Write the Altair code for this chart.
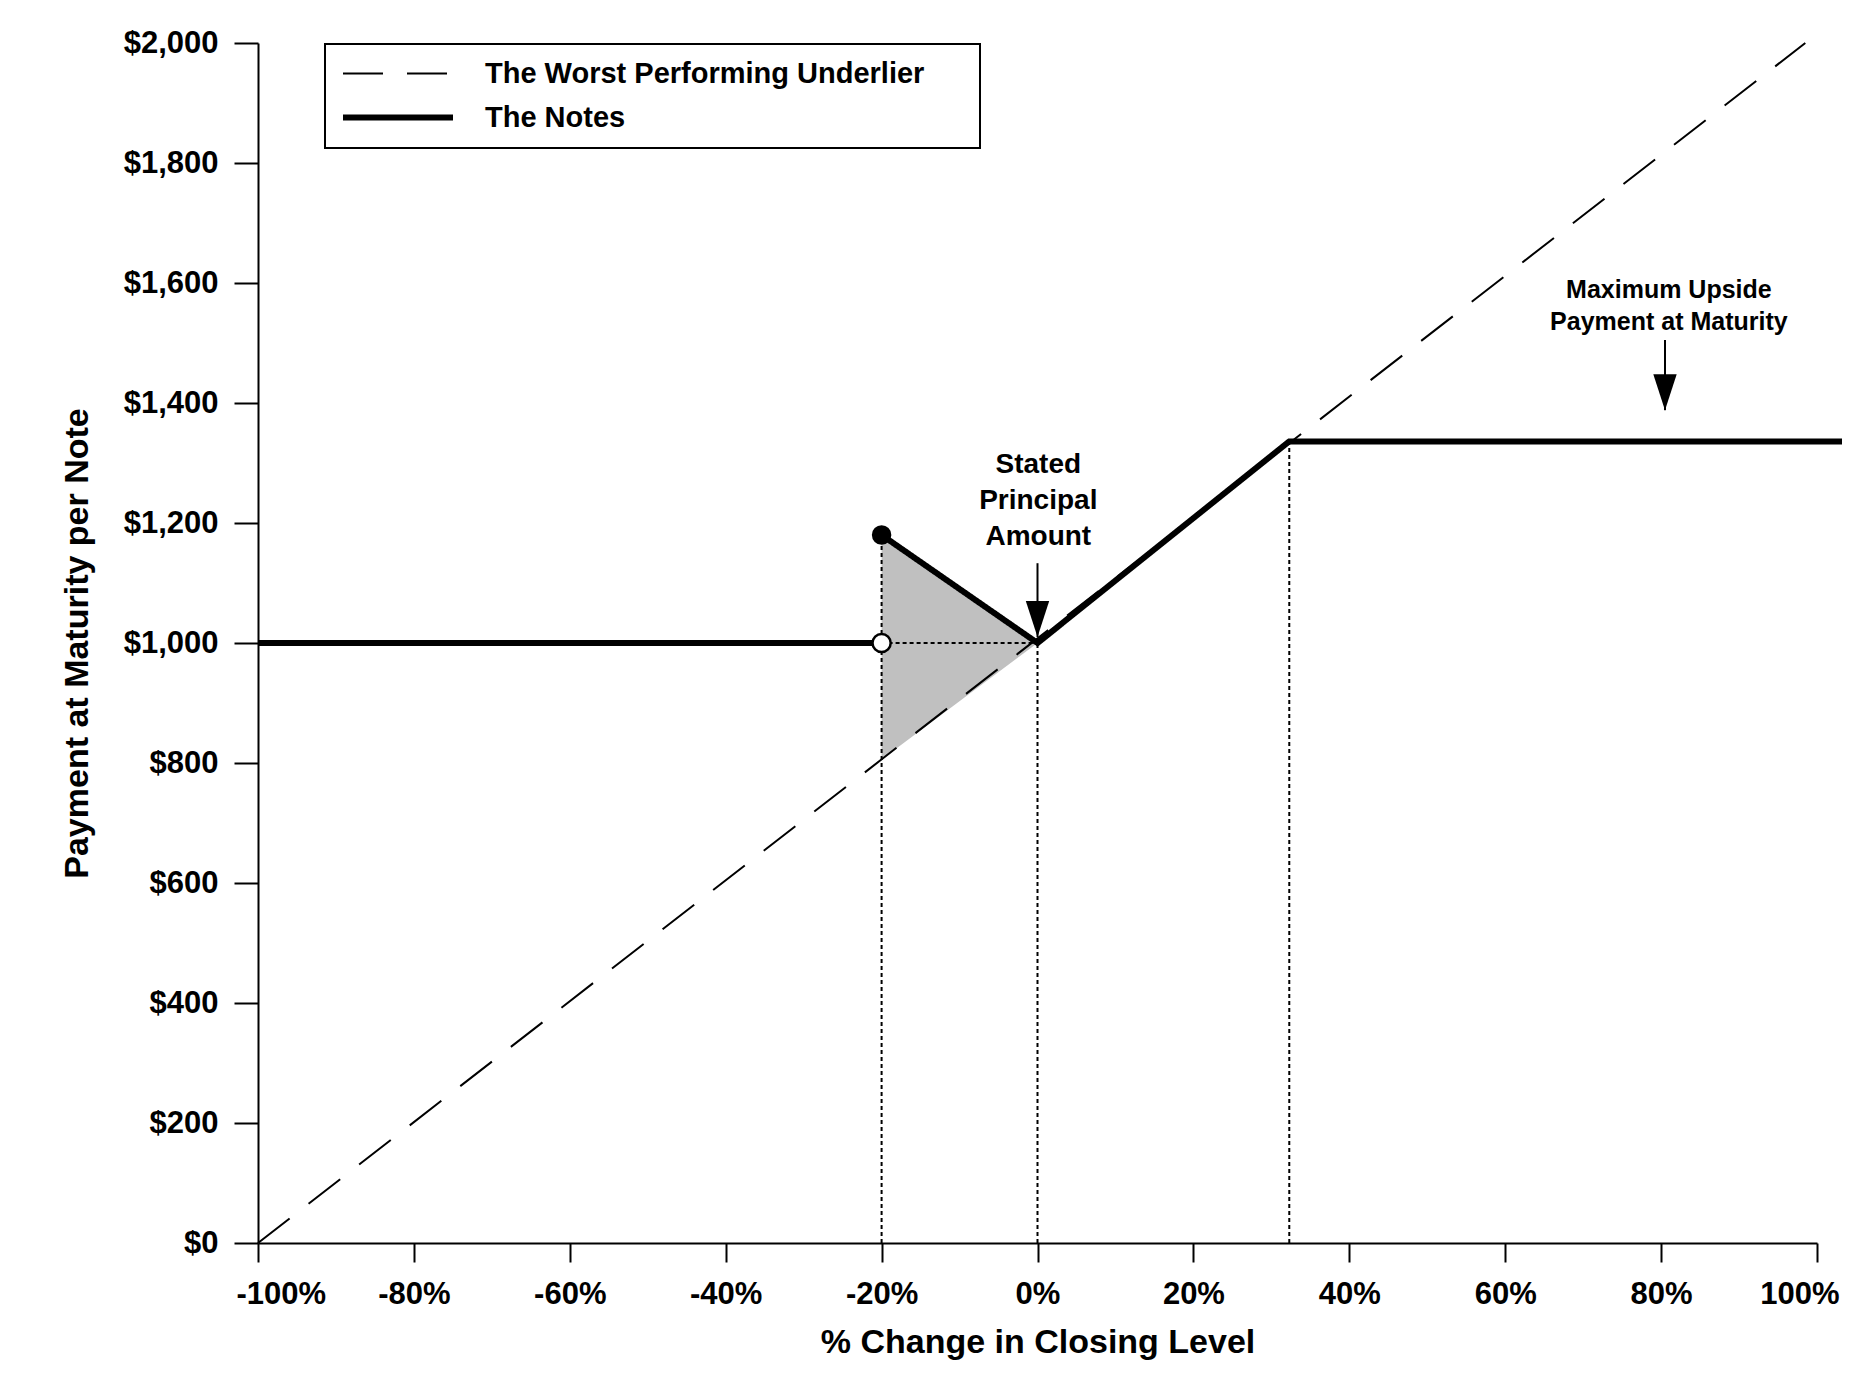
import altair as alt
import pandas as pd

# ---- data ----
series_names = ["The Worst Performing Underlier", "The Notes"]

underlier_x = [-100, 98.5]
underlier_y = [0, 2000]

notes_seg = [1, 1, 2, 2, 2, 2]
notes_x = [-100, -20, -20, 0, 32.3, 105]
notes_y = [1000, 1000, 1180, 1000, 1336, 1336]

shade_x = [-20, 0]
shade_lo = [806, 1000]
shade_hi = [1180, 1000]

vline_x = [-20, 0, 32.3]
vline_top = [1180, 1000, 1336]
hline_y = [1000]
hline_x1 = [-20]
hline_x2 = [0]

dot_filled_x = [-20]
dot_filled_y = [1180]
dot_open_x = [-20]
dot_open_y = [1000]

ann_text = [["Stated", "Principal", "Amount"], ["Maximum Upside", "Payment at Maturity"]]
ann_x = [0.1, 81]
ann_y = [1297, 1588]
arrow_x = [0, 80.5]
arrow_top = [1133, 1505]
arrow_tip = [1010, 1388]

x_ticks = [-100, -80, -60, -40, -20, 0, 20, 40, 60, 80, 100]
y_ticks = [0, 200, 400, 600, 800, 1000, 1200, 1400, 1600, 1800, 2000]

FONT = "Liberation Sans"
# trailing non-breaking spaces (kept from trimming by a zero-width space) widen the legend box
PAD_EXPR = "datum.label + '" + "\u00a0" * 5 + "\u200b'"

# ---- tables ----
under_df = pd.DataFrame({"series": series_names[0], "seg": 0, "x": underlier_x, "y": underlier_y})
notes_df = pd.DataFrame({"series": series_names[1], "seg": notes_seg, "x": notes_x, "y": notes_y})
shade_df = pd.DataFrame({"x": shade_x, "lo": shade_lo, "hi": shade_hi})
vline_df = pd.DataFrame({"x": vline_x, "y0": [0] * len(vline_x), "y1": vline_top})
hline_df = pd.DataFrame({"y": hline_y, "x1": hline_x1, "x2": hline_x2})
filled_df = pd.DataFrame({"x": dot_filled_x, "y": dot_filled_y})
open_df = pd.DataFrame({"x": dot_open_x, "y": dot_open_y})
ann_df = pd.DataFrame({"text": ann_text, "x": ann_x, "y": ann_y})
arrow_df = pd.DataFrame({"x": arrow_x, "top": arrow_top, "tip": arrow_tip})

xscale = alt.Scale(domain=[-100, 100], nice=False, zero=False)
yscale = alt.Scale(domain=[0, 2000], nice=False)

xax = alt.Axis(values=x_ticks, labelExpr="datum.value + '%'", title="% Change in Closing Level",
               grid=False, tickSize=19, labelPadding=17, titlePadding=16,
               labelFlush=True, labelFlushOffset=22)
yax = alt.Axis(values=y_ticks, format="$,.0f", title="Payment at Maturity per Note",
               grid=False, tickSize=24, labelPadding=16, titlePadding=29)

X = alt.X("x:Q", scale=xscale, axis=xax)
Y = alt.Y("y:Q", scale=yscale, axis=yax)

dash_enc = alt.StrokeDash("series:N", scale=alt.Scale(domain=series_names, range=[[40, 24], [1, 0]]),
                          legend=alt.Legend(title=None, labelExpr=PAD_EXPR))
width_enc = alt.StrokeWidth("series:N", scale=alt.Scale(domain=series_names, range=[2, 6]),
                            legend=alt.Legend(title=None, labelExpr=PAD_EXPR))

shade = alt.Chart(shade_df).mark_area(color="#c0c0c0", opacity=1).encode(
    x=alt.X("x:Q", scale=xscale), y=alt.Y("lo:Q", scale=yscale), y2="hi:Q")

vlines = alt.Chart(vline_df).mark_rule(color="black", strokeWidth=2, strokeDash=[4, 3]).encode(
    x=alt.X("x:Q", scale=xscale), y=alt.Y("y0:Q", scale=yscale), y2="y1:Q")
hlines = alt.Chart(hline_df).mark_rule(color="black", strokeWidth=2, strokeDash=[4, 3]).encode(
    x=alt.X("x1:Q", scale=xscale), x2="x2:Q", y=alt.Y("y:Q", scale=yscale))

under = alt.Chart(under_df).mark_line(color="black", clip=False).encode(
    x=X, y=Y, detail="seg:N", strokeDash=dash_enc, strokeWidth=width_enc)
notes = alt.Chart(notes_df).mark_line(color="black", clip=False).encode(
    x=X, y=Y, detail="seg:N", strokeDash=dash_enc, strokeWidth=width_enc)

filled = alt.Chart(filled_df).mark_point(shape="circle", filled=True, color="black", size=380, opacity=1).encode(
    x=alt.X("x:Q", scale=xscale), y=alt.Y("y:Q", scale=yscale))
opened = alt.Chart(open_df).mark_point(shape="circle", filled=True, fill="white", stroke="black",
                                       strokeWidth=2.5, size=330, opacity=1).encode(
    x=alt.X("x:Q", scale=xscale), y=alt.Y("y:Q", scale=yscale))

shafts = alt.Chart(arrow_df).mark_rule(color="black", strokeWidth=2).encode(
    x=alt.X("x:Q", scale=xscale), y=alt.Y("top:Q", scale=yscale), y2="tip:Q")
heads = alt.Chart(arrow_df).mark_point(shape="M-0.65,-1L0.65,-1L0,1Z", filled=True, color="black",
                                       size=1296, opacity=1, yOffset=-18).encode(
    x=alt.X("x:Q", scale=xscale), y=alt.Y("tip:Q", scale=yscale))

ann1 = alt.Chart(ann_df.iloc[[0]]).mark_text(font=FONT, fontWeight="bold", fontSize=28, lineHeight=36,
                                             color="black", align="center", baseline="middle").encode(
    x=alt.X("x:Q", scale=xscale), y=alt.Y("y:Q", scale=yscale), text="text")
ann2 = alt.Chart(ann_df.iloc[[1]]).mark_text(font=FONT, fontWeight="bold", fontSize=25, lineHeight=32,
                                             color="black", align="center", baseline="middle").encode(
    x=alt.X("x:Q", scale=xscale), y=alt.Y("y:Q", scale=yscale), text="text")

chart = alt.layer(shade, vlines, hlines, under, notes, filled, opened, shafts, heads, ann1, ann2).properties(
    width=1559, height=1200,
    padding={"left": 250, "top": 35, "right": 25, "bottom": 120},
    autosize=alt.AutoSizeParams(type="none"),
).configure_view(stroke=None).configure_axis(
    domainColor="black", domainWidth=2, tickColor="black", tickWidth=2,
    labelFont=FONT, labelFontSize=31, labelFontWeight="bold", labelColor="black",
    titleFont=FONT, titleFontSize=34, titleFontWeight="bold", titleColor="black",
).configure_legend(
    orient="none", legendX=67, legendY=1, direction="vertical",
    strokeColor="black", strokeWidth=2, fillColor="white", padding=15, cornerRadius=0,
    symbolType="stroke", symbolSize=12100, symbolStrokeColor="black", clipHeight=29,
    labelFont=FONT, labelFontSize=29, labelFontWeight="bold", labelColor="black",
    labelOffset=29, rowPadding=14, labelLimit=0,
)

chart.save("out.html", embed_options={"renderer": "svg", "actions": False})
